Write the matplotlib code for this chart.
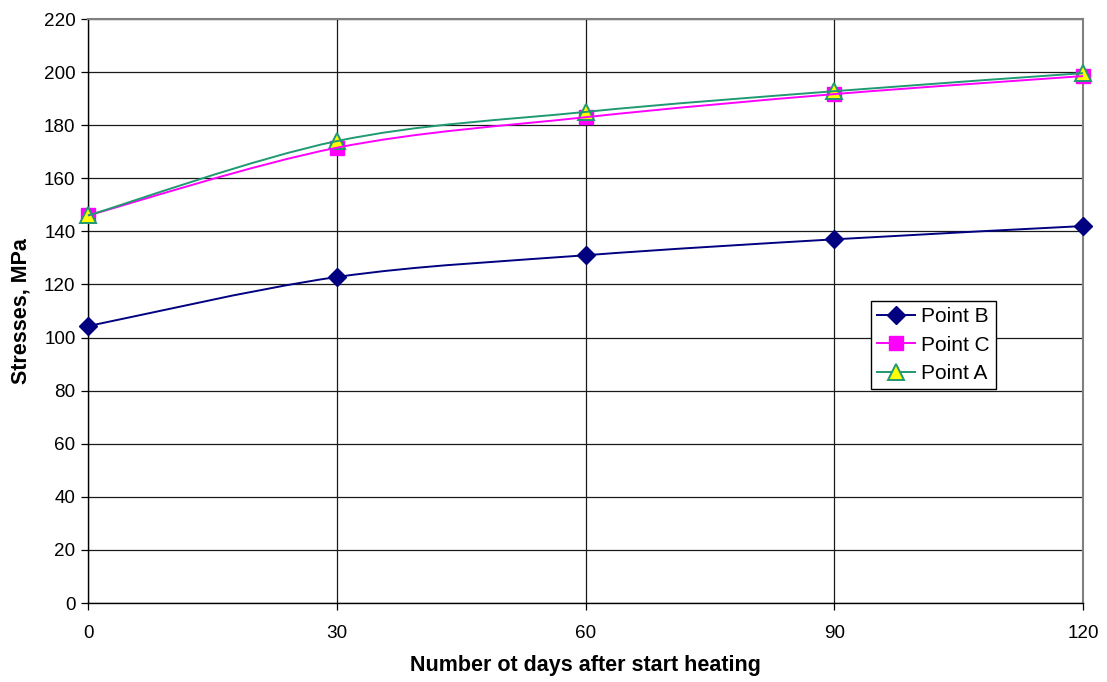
import numpy as np
import matplotlib
matplotlib.use("Agg")
import matplotlib.pyplot as plt
from matplotlib.path import Path
from matplotlib.patches import PathPatch
from matplotlib.lines import Line2D

days = [0, 30, 60, 90, 120]
point_b = [104.3, 122.8, 131.0, 137.0, 142.0]
point_c = [146.0, 171.5, 183.0, 191.7, 198.5]
point_a = [146.0, 174.0, 185.0, 192.8, 199.6]

x_ticks = [0, 30, 60, 90, 120]
y_ticks = list(range(0, 221, 20))

plt.rcParams['font.family'] = ['Liberation Sans', 'DejaVu Sans']

fig = plt.figure(figsize=(11.07, 6.82), dpi=100)
ax = fig.add_axes([88 / 1107, 1 - 603 / 682, (1083 - 88) / 1107, (603 - 19) / 682])
ax.set_xlim(0, 120)
ax.set_ylim(0, 220)


def smooth_path(ax, xs, ys):
    """Catmull-Rom style Bezier through the points (in display space)."""
    pts = ax.transData.transform(np.column_stack([xs, ys]))
    n = len(pts)
    verts = [pts[0]]
    codes = [Path.MOVETO]
    for i in range(n - 1):
        p0 = pts[i - 1] if i > 0 else pts[i]
        p1 = pts[i]
        p2 = pts[i + 1]
        p3 = pts[i + 2] if i + 2 < n else pts[i + 1]
        c1 = p1 + (p2 - p0) / 6.0
        c2 = p2 - (p3 - p1) / 6.0
        verts += [c1, c2, p2]
        codes += [Path.CURVE4] * 3
    return Path(verts, codes)


series = [
    ("Point B", point_b, "#000080", dict(marker="D", markersize=9, markerfacecolor="#000080", markeredgecolor="#000080")),
    ("Point C", point_c, "#FF00FF", dict(marker="s", markersize=10, markerfacecolor="#FF00FF", markeredgecolor="#FF00FF")),
    ("Point A", point_a, "#1f9a72", dict(marker="^", markersize=11, markerfacecolor="#FFFF00", markeredgecolor="#1f9a72", markeredgewidth=1.4)),
]

ax.grid(True, color="#1a1a1a", linewidth=0.9)
ax.set_axisbelow(True)
ax.set_xticks(x_ticks)
ax.set_yticks(y_ticks)
ax.tick_params(axis="both", labelsize=13.6, direction="out", length=5, width=0.9, colors="black")
ax.tick_params(axis="x", pad=11)
ax.tick_params(axis="y", pad=4)

for sp in ["left", "bottom"]:
    ax.spines[sp].set_color("black")
    ax.spines[sp].set_linewidth(1.0)
for sp in ["right", "top"]:
    ax.spines[sp].set_color("#808080")
    ax.spines[sp].set_linewidth(1.5)

fig.canvas.draw()
handles = []
for name, vals, color, mk in series:
    patch = PathPatch(smooth_path(ax, days, vals), transform=None, facecolor="none",
                      edgecolor=color, linewidth=1.4, zorder=3)
    fig.add_artist(patch)
    ax.plot(days, vals, linestyle="none", zorder=4, clip_on=False, **mk)
    handles.append(Line2D([0], [0], color=color, linewidth=1.4, **mk))

leg = ax.legend(handles, [s[0] for s in series], loc="upper left",
                bbox_to_anchor=((871 - 88) / (1083 - 88), 1 - (301 - 19) / (603 - 19)),
                fontsize=15, frameon=True, fancybox=False, edgecolor="black",
                framealpha=1, borderpad=0.3, labelspacing=0.45, handlelength=1.8,
                handletextpad=0.3, borderaxespad=0)
leg.get_frame().set_linewidth(1.0)

ax.set_xlabel("Number ot days after start heating", fontsize=15.5, fontweight="bold", labelpad=9)
ax.set_ylabel("Stresses, MPa", fontsize=15.5, fontweight="bold", labelpad=9)

fig.savefig("out.png", dpi=100)
